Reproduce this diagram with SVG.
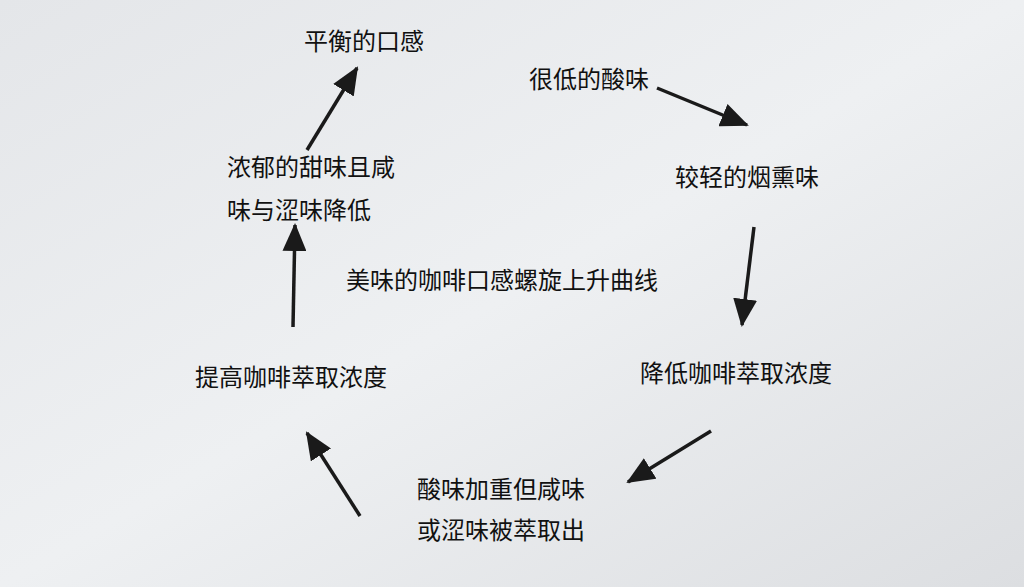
<svg xmlns="http://www.w3.org/2000/svg" width="1024" height="587" viewBox="0 0 1024 587">
<defs>
<linearGradient id="bg" x1="0" y1="0" x2="1" y2="1">
<stop offset="0" stop-color="#e4e6e9"/><stop offset="0.5" stop-color="#eef0f2"/><stop offset="1" stop-color="#dcdee1"/>
</linearGradient>
<marker id="ah" markerUnits="userSpaceOnUse" markerWidth="30" markerHeight="24" refX="26" refY="12" orient="auto">
<path d="M0,0 L28,12 L0,24 Z" fill="#1a1a1a"/>
</marker>
<style>
text{font-family:"Noto Sans CJK SC","Noto Sans",sans-serif;font-size:24px;fill:#111}
.c line{stroke:#1a1a1a;stroke-width:3.5;marker-end:url(#ah)}
</style>
</defs>
<rect width="1024" height="587" fill="url(#bg)"/>
<g id="n1"><text x="304" y="50">平衡的口感</text></g>
<g id="n2"><text x="529" y="88">很低的酸味</text></g>
<g id="n3"><text x="675" y="186">较轻的烟熏味</text></g>
<g id="n4"><text x="640" y="382">降低咖啡萃取浓度</text></g>
<g id="n5"><text x="417" y="498">酸味加重但咸味</text><text x="417" y="539">或涩味被萃取出</text></g>
<g id="n6"><text x="195" y="386">提高咖啡萃取浓度</text></g>
<g id="n7"><text x="227" y="176">浓郁的甜味且咸</text><text x="227" y="219">味与涩味降低</text></g>
<g id="title"><text x="346" y="289">美味的咖啡口感螺旋上升曲线</text></g>
<g class="c" id="connectors">
<line x1="307" y1="150" x2="357" y2="68"/>
<line x1="657" y1="88" x2="747" y2="125"/>
<line x1="754" y1="227" x2="742" y2="325"/>
<line x1="711" y1="431" x2="628" y2="482"/>
<line x1="360" y1="516" x2="307" y2="433"/>
<line x1="293" y1="327" x2="295" y2="225"/>
</g>
</svg>
